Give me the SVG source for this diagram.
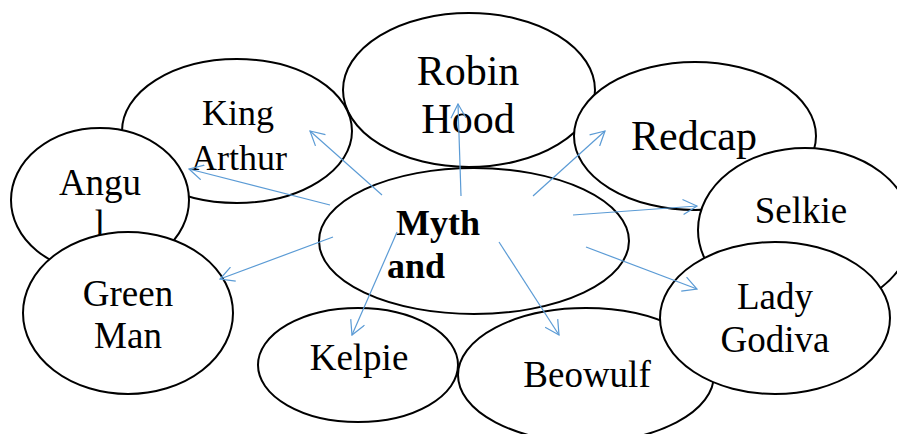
<svg xmlns="http://www.w3.org/2000/svg" width="897" height="434" viewBox="0 0 897 434">
  <style>
    .node ellipse { fill: #ffffff; stroke: #000000; stroke-width: 2; }
    .node text { font-family: "Liberation Serif", "Times New Roman", serif; font-size: 37px; fill: #000000; text-anchor: middle; }
    .node text.big { font-size: 42px; }
    .node text.mid { font-size: 36px; }
    #myth text { font-size: 36px; font-weight: bold; text-anchor: start; }
    .links line { stroke: #5B9BD5; stroke-width: 1.2; marker-end: url(#open); }
  </style>
  <defs>
    <marker id="open" viewBox="0 0 16 16" refX="15" refY="8" markerWidth="16" markerHeight="16" orient="auto" markerUnits="userSpaceOnUse">
      <path d="M1,0.5 L15,8 L1,15.5" fill="none" stroke="#5B9BD5" stroke-width="1.2"/>
    </marker>
  </defs>

  <rect width="897" height="434" fill="#ffffff"/>

  <g id="robin-hood" class="node">
    <ellipse cx="469" cy="90" rx="126" ry="77"/>
    <text class="big" x="468" y="85">Robin</text>
    <text class="big" x="468" y="133">Hood</text>
  </g>

  <g id="king-arthur" class="node">
    <ellipse cx="237" cy="131" rx="115" ry="72"/>
    <text class="mid" x="238" y="125">King</text>
    <text class="mid" x="239" y="170">Arthur</text>
  </g>

  <g id="angul" class="node">
    <ellipse cx="100" cy="200" rx="89" ry="72"/>
    <text x="100" y="195">Angu</text>
    <text x="100" y="236">l</text>
  </g>

  <g id="green-man" class="node">
    <ellipse cx="128" cy="313" rx="105" ry="81"/>
    <text x="128" y="306">Green</text>
    <text x="128" y="348">Man</text>
  </g>

  <g id="redcap" class="node">
    <ellipse cx="695" cy="136" rx="121" ry="74"/>
    <text class="big" x="694" y="150">Redcap</text>
  </g>

  <g id="selkie" class="node">
    <ellipse cx="805" cy="230" rx="107" ry="82"/>
    <text x="801" y="223">Selkie</text>
  </g>

  <g id="myth" class="node">
    <ellipse cx="474" cy="241" rx="155" ry="73"/>
    <text x="396" y="235">Myth</text>
    <text x="387" y="278">and</text>
  </g>

  <g id="kelpie" class="node">
    <ellipse cx="358" cy="365" rx="100" ry="57"/>
    <text x="359" y="370">Kelpie</text>
  </g>

  <g id="beowulf" class="node">
    <ellipse cx="586" cy="375" rx="128" ry="67"/>
    <text x="587" y="387">Beowulf</text>
  </g>

  <g id="lady-godiva" class="node">
    <ellipse cx="775" cy="318" rx="115" ry="76"/>
    <text x="775" y="309">Lady</text>
    <text x="775" y="352">Godiva</text>
  </g>

  <!-- arrows from the centre node out to each figure -->
  <g id="connectors" class="links">
    <line x1="382" y1="195" x2="310" y2="131"/>
    <line x1="330" y1="205" x2="189" y2="169"/>
    <line x1="333" y1="237" x2="220" y2="279"/>
    <line x1="397" y1="232" x2="352" y2="335"/>
    <line x1="461" y1="196" x2="458" y2="104"/>
    <line x1="533" y1="196" x2="605" y2="131"/>
    <line x1="573" y1="215" x2="697" y2="206"/>
    <line x1="586" y1="247" x2="697" y2="289"/>
    <line x1="499" y1="242" x2="559" y2="335"/>
  </g>
</svg>
